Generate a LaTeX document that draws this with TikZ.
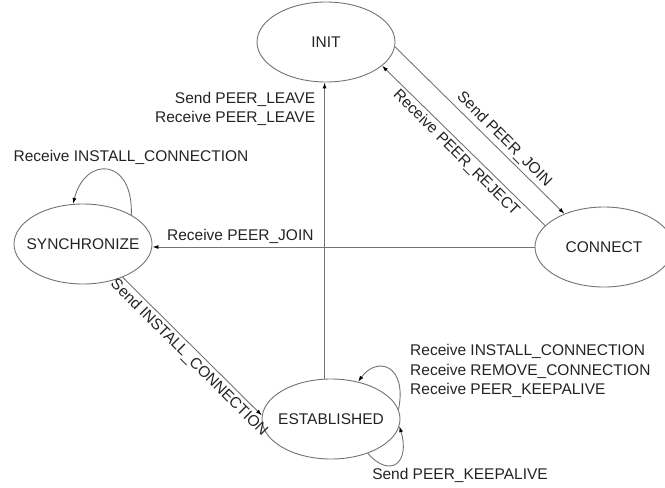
\documentclass[tikz,border=0pt]{standalone}
\usepackage{fontspec}
\setmainfont{Liberation Sans}
\usetikzlibrary{shapes.geometric,arrows.meta}
\definecolor{linegray}{RGB}{115,115,115}
\definecolor{textgray}{RGB}{35,35,35}
\begin{document}
\begin{tikzpicture}[
        x=1pt, y=-1pt,
        state/.style={draw=linegray, ellipse, line width=0.9pt, inner xsep=-12pt, inner ysep=0pt,
            minimum width=138pt, minimum height=80pt, text=textgray},
        trans/.style={draw=linegray, line width=0.9pt, -{Latex[length=6pt,width=4pt,color=black]}},
        lbl/.style={text=textgray, inner sep=3pt},
        diag/.style={lbl, rotate=-45},
        every node/.style={font=\fontsize{15.5}{19.5}\selectfont},
    ]
    \useasboundingbox (0,0) rectangle (665,488);
    \node[state](init) at (326,42){INIT};
    \node[state](sync) at (83,244){SYNCHRONIZE};
    \node[state](conn) at (604,247){CONNECT};
    \node[state](est) at (331,419){ESTABLISHED};

    \draw[trans] (init.-4) -- node[diag, anchor=south, pos=0.6]{Send PEER\_JOIN} (conn.140);
    \draw[trans] (conn.160) -- node[diag, anchor=north, pos=0.5]{Receive PEER\_REJECT} (init.-23);
    \draw[trans] (conn.west) -- node[lbl, above, pos=0.77]{Receive PEER\_JOIN} (sync.east |- conn.west);
    \draw[trans] (sync.-40) -- node[diag, anchor=north, pos=0.53]{Send INSTALL\_CONNECTION} (est.177);
    \draw[trans] (est.north -| init.-92) -- node[lbl, left=6pt, align=right, pos=0.91]{Send PEER\_LEAVE\\Receive PEER\_LEAVE} (init.-92);

    \draw[trans] (sync.31) .. controls +(2,-58) and +(12,-48) .. (sync.104);
    \node[lbl](syncloop) at (131,157){Receive INSTALL\_CONNECTION};
    \draw[trans] (est.8) .. controls +(9,-45) and +(19,-26) .. (est.54);
    \node[lbl, align=left, anchor=west](estloop) at (407,371){Receive INSTALL\_CONNECTION\\Receive REMOVE\_CONNECTION\\Receive PEER\_KEEPALIVE};
    \draw[trans] (est.-43) .. controls +(23,26) and +(11,36) .. (est.-6);
    \node[lbl](keepalive) at (460,475){Send PEER\_KEEPALIVE};
    
    \end{tikzpicture}
\end{document}
